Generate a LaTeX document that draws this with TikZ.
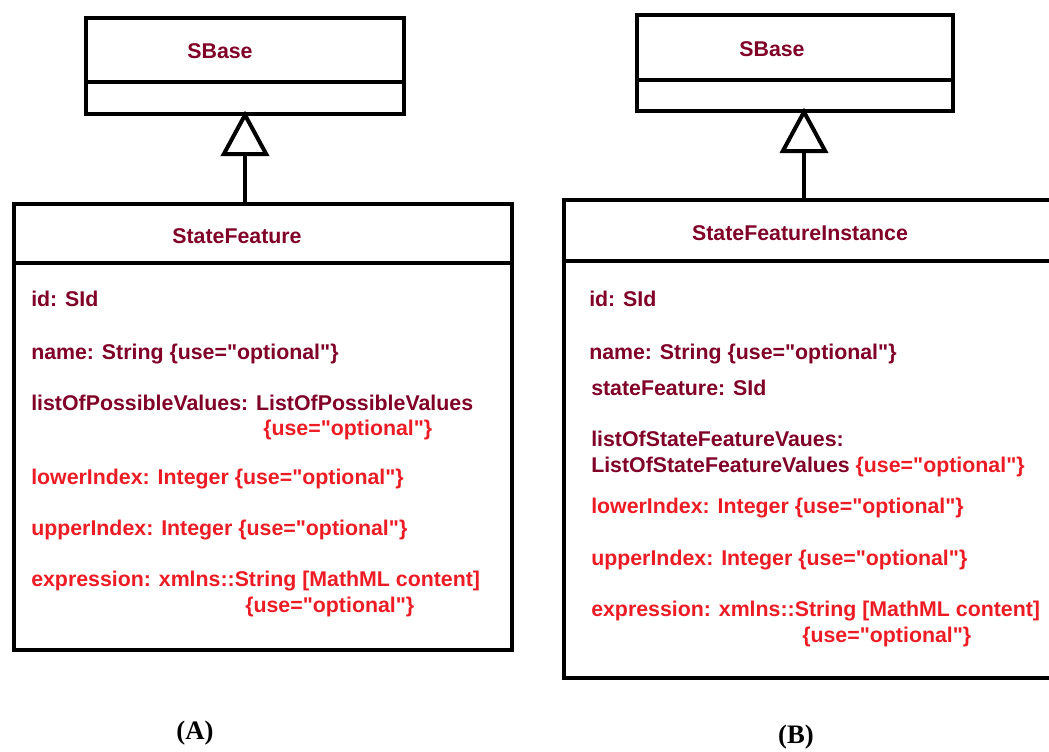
\documentclass[tikz,border=0pt]{standalone}
\usepackage{fontspec}
\setmainfont{Liberation Sans}
\newfontfamily\capfont{Liberation Serif}
\usetikzlibrary{arrows.meta}
\definecolor{attrdark}{RGB}{128,0,38}
\definecolor{attrred}{RGB}{237,28,36}
\newcommand\optuse{\{use=\textquotedbl optional\textquotedbl\}}

\begin{document}
\begin{tikzpicture}[x=0.75pt,y=-0.75pt]
    % --- styles ---
    \tikzset{
      classbox/.style={draw,line width=3pt,anchor=north west,inner sep=0pt},
      attr/.style={anchor=base west,inner sep=0pt,text=attrdark,
        font=\fontsize{16}{19}\selectfont\bfseries},
      opt/.style={attr,text=attrred},
      title/.style={anchor=base,inner sep=0pt,text=attrdark,
        font=\fontsize{16}{19}\selectfont\bfseries},
      inherit/.style={line width=3pt,shorten >=-4pt,
        -{Triangle[open,length=34pt,width=36pt,fill=white]}},
      caption/.style={font=\capfont\fontsize{20}{22}\selectfont\bfseries}
    }
    \useasboundingbox (0,0) rectangle (1049,751);

    % (A) class boxes
    \node[classbox,minimum width=318*0.75pt,minimum height=96*0.75pt] (sbaseA) at (84,16) {};
    \draw[line width=3pt] (sbaseA.west |- 0,82) -- (sbaseA.east |- 0,82);
    \node[classbox,minimum width=498*0.75pt,minimum height=446*0.75pt] (featA) at (12,202) {};
    \draw[line width=3pt] (featA.west |- 0,263) -- (featA.east |- 0,263);
    \draw[inherit] (sbaseA.south |- featA.north) -- (sbaseA.south);

    % (A) texts
    \node[title] (sbaseAname) at (220,58) {SBase};
    \node[title] (featAname) at (237,243) {StateFeature};
    \node[attr] (aId) at (31,306) {id: SId};
    \node[attr] (aName) at (31,359) {name: String \optuse};
    \node[attr] (aList) at (31,410) {listOfPossibleValues: ListOfPossibleValues};
    \node[opt] (aListUse) at (263,435) {\optuse};
    \node[opt] (aLower) at (31,484) {lowerIndex: Integer \optuse};
    \node[opt] (aUpper) at (31,535) {upperIndex: Integer \optuse};
    \node[opt] (aExpr) at (31,586) {expression: xmlns::String [MathML content]};
    \node[opt] (aExprUse) at (245,612) {\optuse};

    % (B) class boxes (right edge runs off the page)
    \node[classbox,minimum width=316*0.75pt,minimum height=96*0.75pt] (sbaseB) at (635,13) {};
    \draw[line width=3pt] (sbaseB.west |- 0,80) -- (sbaseB.east |- 0,80);
    \node[classbox,minimum width=500*0.75pt,minimum height=478*0.75pt] (instB) at (562,198) {};
    \draw[line width=3pt] (instB.west |- 0,261) -- (instB.east |- 0,261);
    \coordinate (tipB) at ([xshift=6.75pt]sbaseB.south);
    \draw[inherit] (tipB |- instB.north) -- (tipB);

    % (B) texts
    \node[title] (sbaseBname) at (772,56) {SBase};
    \node[title] (instBname) at (800,240) {StateFeatureInstance};
    \node[attr] (bId) at (589,306) {id: SId};
    \node[attr] (bName) at (589,359) {name: String \optuse};
    \node[attr] (bFeat) at (591,395) {stateFeature: SId};
    \node[attr] (bList) at (591,446) {listOfStateFeatureVaues:};
    \node[attr] (bListType) at (591,472)
      {ListOfStateFeatureValues \textcolor{attrred}{\optuse}};
    \node[opt] (bLower) at (591,513) {lowerIndex: Integer \optuse};
    \node[opt] (bUpper) at (591,565) {upperIndex: Integer \optuse};
    \node[opt] (bExpr) at (591,616) {expression: xmlns::String [MathML content]};
    \node[opt] (bExprUse) at (802,642) {\optuse};

    % captions
    \node[caption] (capA) at (195,733) {(A)};
    \node[caption] (capB) at (796,737) {(B)};
\end{tikzpicture}
\end{document}
